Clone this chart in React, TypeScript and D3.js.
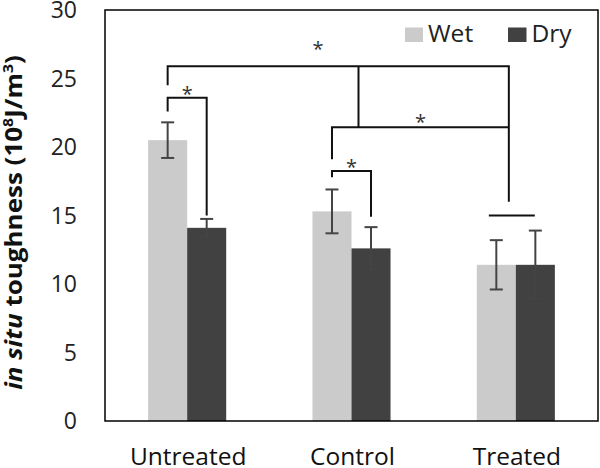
import React from "react";
import * as d3 from "d3";

const categories = ["Untreated", "Control", "Treated"];
const seriesNames = ["Wet", "Dry"];
const wetValues = [20.5, 15.3, 11.4];
const dryValues = [14.1, 12.6, 11.4];
const wetErrors = [1.3, 1.6, 1.8];
const dryErrors = [0.65, 1.55, 2.5];
const yTicks = [0, 5, 10, 15, 20, 25, 30];

// significance brackets: pairs of [category, series] endpoints and data-levels
const pairBrackets = [
  { cat: "Untreated", leftLow: 22.6, top: 23.6, rightLow: 15.0 },
  { cat: "Control", leftLow: 17.8, top: 18.25, rightLow: 14.9 },
];

const W = 600;
const H = 468;
const M = { left: 105, right: 2, top: 10, bottom: 47 };

const WET = "#cbcbcb";
const DRY = "#414141";
const FONT = "'Open Sans', sans-serif";

export default function App() {
  const x = d3
    .scaleBand<string>()
    .domain(categories)
    .range([M.left, W - M.right])
    .paddingInner(0.525)
    .paddingOuter(0.2625);
  const xs = d3.scaleBand<string>().domain(seriesNames).range([0, x.bandwidth()]);
  const y = d3.scaleLinear().domain([0, 30]).range([H - M.bottom, M.top]);

  const cx = (cat: string, s: string) => (x(cat) ?? 0) + (xs(s) ?? 0) + xs.bandwidth() / 2;
  const gc = (cat: string) => (x(cat) ?? 0) + x.bandwidth() / 2;

  const series = [
    { name: "Wet", values: wetValues, errors: wetErrors, color: WET },
    { name: "Dry", values: dryValues, errors: dryErrors, color: DRY },
  ];

  const lineStyle = { stroke: "#111", strokeWidth: 2, fill: "none" };

  // big brackets
  const tX = gc("Treated") - 7;
  const cMid = gc("Control") + 7;
  const topY = y(25.9);
  const midY = y(21.45);

  const star = (px: number, py: number, key: string) => (
    <text key={key} x={px} y={py + 11} textAnchor="middle" fontFamily={FONT} fontSize={20} fill="#333">
      *
    </text>
  );

  return (
    <svg width={W} height={H} style={{ position: "absolute", left: 0, top: 0, background: "#fff" }}>
      <rect x={0} y={0} width={W} height={H} fill="#fff" />
      {/* bars */}
      {series.map((s) =>
        categories.map((c, i) => (
          <rect
            key={s.name + c}
            x={(x(c) ?? 0) + (xs(s.name) ?? 0)}
            y={y(s.values[i])}
            width={xs.bandwidth()}
            height={y(0) - y(s.values[i])}
            fill={s.color}
          />
        ))
      )}
      {/* error bars */}
      {series.map((s) =>
        categories.map((c, i) => {
          const px = cx(c, s.name);
          const y1 = y(s.values[i] + s.errors[i]);
          const y2 = y(s.values[i] - s.errors[i]);
          return (
            <g key={"e" + s.name + c} stroke="#444" strokeWidth={2}>
              <line x1={px} x2={px} y1={y1} y2={y2} />
              <line x1={px - 6.5} x2={px + 6.5} y1={y1} y2={y1} />
              <line x1={px - 6.5} x2={px + 6.5} y1={y2} y2={y2} />
            </g>
          );
        })
      )}
      {/* pair brackets */}
      {pairBrackets.map((b) => {
        const lx = cx(b.cat, "Wet");
        const rx = cx(b.cat, "Dry");
        return (
          <g key={"b" + b.cat}>
            <path
              d={`M${lx},${y(b.leftLow)}V${y(b.top)}H${rx}V${y(b.rightLow)}`}
              style={lineStyle as any}
            />
            {star((lx + rx) / 2, y(b.top) - 8, "s" + b.cat)}
          </g>
        );
      })}
      {/* control vs treated bracket */}
      <path
        d={`M${cx("Control", "Wet")},${y(19.1)}V${midY}H${tX}`}
        style={lineStyle as any}
      />
      {star((cx("Control", "Wet") + tX) / 2, midY - 9, "sCT")}
      {/* untreated vs others bracket */}
      <path d={`M${cx("Untreated", "Wet")},${y(24.5)}V${topY}H${tX}V${y(16.0)}`} style={lineStyle as any} />
      <path d={`M${cMid},${topY}V${midY}`} style={lineStyle as any} />
      {star(318, topY - 21, "sTop")}
      {/* treated line */}
      <line
        x1={gc("Treated") - 27}
        x2={gc("Treated") + 19}
        y1={y(15.0)}
        y2={y(15.0)}
        stroke="#111"
        strokeWidth={2}
      />
      {/* frame */}
      <rect
        x={M.left}
        y={M.top}
        width={W - M.left - M.right}
        height={y(0) - M.top}
        fill="none"
        stroke="#000"
        strokeWidth={1.5}
      />
      {/* y tick labels */}
      {yTicks.map((t) => (
        <text
          key={"t" + t}
          x={77}
          y={y(t)}
          dy="0.36em"
          textAnchor="end"
          fontFamily={FONT}
          fontSize={23}
          fill="#222"
        >
          {t}
        </text>
      ))}
      {/* category labels */}
      {categories.map((c) => (
        <text key={"c" + c} x={gc(c) + 1} y={465} textAnchor="middle" fontFamily={FONT} fontSize={24.5} fill="#111">
          {c}
        </text>
      ))}
      {/* legend */}
      <rect x={405} y={27.5} width={18} height={14.5} fill={WET} />
      <text x={428} y={41.5} fontFamily={FONT} fontSize={24.5} fill="#222">
        Wet
      </text>
      <rect x={508} y={27.5} width={18.5} height={14.5} fill={DRY} />
      <text x={531.5} y={41.5} fontFamily={FONT} fontSize={24.5} fill="#222">
        Dry
      </text>
      {/* y axis title */}
      <text
        transform={`translate(22,222.5) rotate(-90) scale(1.13,1)`}
        textAnchor="middle"
        fontFamily={FONT}
        fontSize={23}
        fontWeight="bold"
        fill="#111"
      >
        <tspan fontStyle="italic">in situ</tspan>
        <tspan> toughness (10</tspan>
        <tspan fontSize={14} dy={-9}>8</tspan>
        <tspan dy={9}>J/m</tspan>
        <tspan fontSize={14} dy={-9}>3</tspan>
        <tspan dy={9}>)</tspan>
      </text>
    </svg>
  );
}
